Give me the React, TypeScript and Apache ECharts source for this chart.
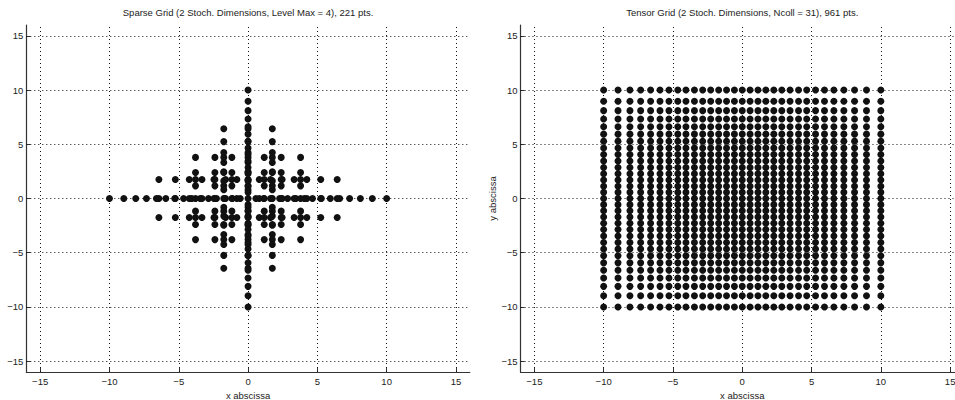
import React, { useEffect, useRef } from "react";
import * as echarts from "echarts";

// 1-D collocation node sets (abscissas, in plot units)
const nodes1 = [0];
const nodes3 = [-1.751, 0, 1.751];
const nodes7 = [-3.791, -2.392, -1.167, 0, 1.167, 2.392, 3.791];
const nodes15 = [
  -6.433, -5.246, -4.242, -3.325, -2.459, -1.624, -0.808, 0, 0.808, 1.624, 2.459, 3.325, 4.242,
  5.246, 6.433,
];
const nodes31 = [
  -10, -8.964, -8.103, -7.331, -6.613, -5.934, -5.288, -4.651, -4.062, -3.45, -2.855, -2.277,
  -1.702, -1.134, -0.565, 0, 0.565, 1.134, 1.702, 2.277, 2.855, 3.45, 4.062, 4.651, 5.288, 5.934,
  6.613, 7.331, 8.103, 8.964, 10,
];

// sparse grid = union of these tensor blocks (x-rule size, y-rule size)
const sparseBlocks: [number, number][] = [
  [31, 1], [15, 3], [7, 7], [3, 15], [1, 31],
  [15, 1], [7, 3], [3, 7], [1, 15],
];
// tensor grid uses the 31-node rule in both directions
const tensorXNodes = nodes31;
const tensorYNodes = nodes31;

const tickValues = [-15, -10, -5, 0, 5, 10, 15];
const axisMin = -16;
const axisMax = 16;

const titleLeft = "Sparse Grid (2 Stoch. Dimensions, Level Max = 4), 221 pts.";
const titleRight = "Tensor Grid (2 Stoch. Dimensions, Ncoll = 31), 961 pts.";
const xName = "x abscissa";
const yName = "y abscissa";

const rules: Record<number, number[]> = { 1: nodes1, 3: nodes3, 7: nodes7, 15: nodes15, 31: nodes31 };

function buildSparse(): number[][] {
  const seen = new Set<string>();
  const pts: number[][] = [];
  for (const [nx, ny] of sparseBlocks) {
    for (const x of rules[nx]) {
      for (const y of rules[ny]) {
        const k = x.toFixed(3) + "," + y.toFixed(3);
        if (!seen.has(k)) {
          seen.add(k);
          pts.push([x, y]);
        }
      }
    }
  }
  return pts;
}

function buildTensor(): number[][] {
  const pts: number[][] = [];
  for (const x of tensorXNodes) for (const y of tensorYNodes) pts.push([x, y]);
  return pts;
}

const FONT = '"Liberation Sans", Arial, Helvetica, sans-serif';
const fmt = (v: number) => (v < 0 ? "\u2212" + Math.abs(v) : String(v));

const GRID_TOP = 25;
const GRID_H = 347;
const GRID_W = 443.5;
const LEFTS = [26.3, 520.5];

export default function App() {
  const ref = useRef<HTMLDivElement>(null);
  useEffect(() => {
    if (!ref.current) return;
    const chart = echarts.init(ref.current, undefined, { renderer: "svg" });
    const sparse = buildSparse();
    const tensor = buildTensor();

    const gridLines = [
      ...tickValues.map((v) => ({ xAxis: v })),
      ...tickValues.map((v) => ({ yAxis: v })),
    ];

    const mkX = (i: number) => ({
      type: "value",
      gridIndex: i,
      min: axisMin,
      max: axisMax,
      axisLine: { show: true, onZero: false, lineStyle: { color: "#333", width: 1.2 } },
      axisTick: { show: true, inside: true, length: 4, customValues: tickValues, lineStyle: { color: "#333" } },
      axisLabel: { customValues: tickValues, formatter: fmt, fontSize: 9.5, color: "#222", margin: 4, fontFamily: FONT },
      splitLine: { show: false },
      name: xName,
      nameLocation: "middle",
      nameGap: 9,
      nameTextStyle: { fontSize: 9.5, color: "#222", fontFamily: FONT, lineHeight: 10 },
    });
    const mkY = (i: number, name?: string) => ({
      type: "value",
      gridIndex: i,
      min: axisMin,
      max: axisMax,
      axisLine: { show: true, onZero: false, lineStyle: { color: "#333", width: 1.2 } },
      axisTick: { show: true, inside: true, length: 4, customValues: tickValues, lineStyle: { color: "#333" } },
      axisLabel: { customValues: tickValues, formatter: fmt, fontSize: 9.5, color: "#222", margin: 3, fontFamily: FONT },
      splitLine: { show: false },
      name: name || "",
      nameLocation: "middle",
      nameGap: 21,
      nameTextStyle: { fontSize: 9.5, color: "#222", fontFamily: FONT },
    });

    const mkSeries = (i: number, data: number[][]) => ({
      type: "scatter",
      xAxisIndex: i,
      yAxisIndex: i,
      data,
      symbol: "circle",
      symbolSize: 7,
      z: 10,
      itemStyle: { color: "#111", opacity: 1 },
      markLine: {
        silent: true,
        symbol: ["none", "none"],
        label: { show: false },
        lineStyle: { type: [1, 3], color: "#111", width: 1, opacity: 1 },
        data: gridLines,
      },
    });

    chart.setOption({
      animation: false,
      grid: LEFTS.map((l) => ({
        left: l,
        top: GRID_TOP,
        width: GRID_W,
        height: GRID_H,
        containLabel: false,
        outerBoundsMode: "none",
      })),
      xAxis: [mkX(0), mkX(1)],
      yAxis: [mkY(0), mkY(1, yName)],
      graphic: [
        {
          type: "text",
          x: LEFTS[0] + GRID_W / 2,
          y: 12.5,
          style: { text: titleLeft, fontSize: 9.5, fontFamily: FONT, fill: "#222", align: "center", verticalAlign: "middle" },
        },
        {
          type: "text",
          x: LEFTS[1] + GRID_W / 2,
          y: 12.5,
          style: { text: titleRight, fontSize: 9.5, fontFamily: FONT, fill: "#222", align: "center", verticalAlign: "middle" },
        },
      ],
      series: [mkSeries(0, sparse), mkSeries(1, tensor)],
    });
    return () => chart.dispose();
  }, []);
  return (
    <div
      ref={ref}
      style={{ position: "fixed", left: 0, top: 0, width: 955, height: 400, background: "#fff" }}
    />
  );
}
